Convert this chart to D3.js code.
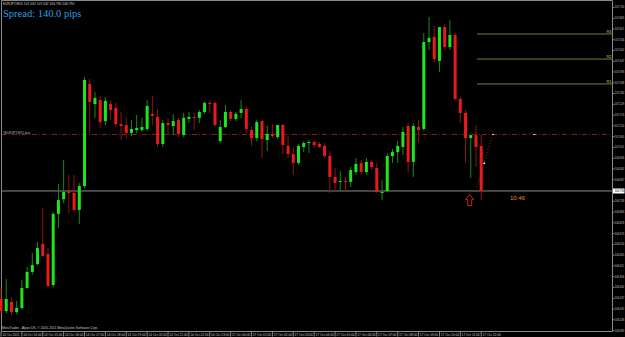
<!DOCTYPE html>
<html lang="en">
<meta charset="utf-8">
<style type="text/css">
  body { margin: 0; background: #000; }
  svg { display: block; }
</style>
<body>
<script src="https://d3js.org/d3.v7.min.js"></script>
<script>
// EURJPY M15 bars, 14 Oct 13:00 -> 17 Oct 12:00
var opens = [106.243,106.182,106.228,106.177,106.198,106.299,106.380,106.420,106.522,106.471,
  106.314,106.674,106.749,106.790,106.780,106.694,106.815,107.332,107.230,107.251,
  107.144,107.230,107.210,107.129,107.124,107.084,107.099,107.099,107.104,107.180,
  107.165,107.028,107.134,107.119,107.149,107.073,107.155,107.165,107.160,107.190,
  107.236,107.236,107.043,107.114,107.190,107.155,107.185,107.205,107.099,107.058,
  107.144,107.048,107.079,107.063,107.124,107.018,106.977,106.932,107.013,107.033,
  107.038,107.028,107.018,106.967,106.861,106.836,106.841,106.836,106.886,106.932,
  106.886,106.937,106.906,106.780,106.790,106.967,106.987,107.013,107.119,106.937,
  107.114,107.104,107.544,107.570,107.448,107.620,107.519,107.580,107.256,107.185,
  107.058,107.073,107.018];
var highs = [106.299,106.344,106.253,106.233,106.339,106.405,106.476,106.532,106.704,106.501,
  106.684,106.825,106.947,106.871,106.871,106.830,107.367,107.357,107.291,107.271,
  107.266,107.251,107.236,107.190,107.160,107.149,107.175,107.160,107.251,107.271,
  107.205,107.149,107.160,107.180,107.160,107.185,107.190,107.185,107.200,107.241,
  107.251,107.241,107.149,107.225,107.200,107.190,107.251,107.215,107.114,107.149,
  107.149,107.119,107.129,107.119,107.129,107.068,107.013,107.028,107.043,107.048,
  107.048,107.038,107.033,106.992,106.906,106.891,106.861,106.912,106.957,106.947,
  106.957,106.947,106.932,106.846,106.982,107.003,107.043,107.114,107.134,107.134,
  107.149,107.590,107.671,107.625,107.620,107.635,107.656,107.590,107.266,107.200,
  107.073,107.124,107.073];
var lows = [106.167,106.172,106.162,106.167,106.188,106.294,106.365,106.415,106.456,106.304,
  106.304,106.603,106.729,106.679,106.684,106.623,106.805,107.084,107.160,107.109,
  107.124,107.149,107.114,107.048,107.058,107.068,107.084,107.089,107.094,107.124,
  107.013,107.013,107.073,107.073,107.063,107.063,107.134,107.099,107.134,107.180,
  107.185,107.119,107.033,107.109,107.144,107.144,107.160,107.084,107.018,107.043,
  106.957,106.992,107.058,107.053,106.977,106.957,106.871,106.922,106.987,106.982,
  107.008,107.008,106.957,106.780,106.785,106.795,106.785,106.810,106.871,106.871,
  106.871,106.896,106.780,106.744,106.785,106.932,106.932,106.972,106.886,106.861,
  107.033,107.094,107.504,107.443,107.392,107.504,107.504,107.251,107.134,106.932,
  106.856,106.912,106.744];
var closes = [106.182,106.243,106.177,106.198,106.299,106.380,106.415,106.501,106.461,106.309,
  106.674,106.744,106.785,106.780,106.694,106.815,107.352,107.241,107.261,107.139,
  107.246,107.200,107.129,107.119,107.084,107.104,107.109,107.114,107.220,107.170,
  107.028,107.134,107.124,107.144,107.079,107.160,107.165,107.160,107.190,107.236,
  107.230,107.124,107.114,107.190,107.155,107.180,107.205,107.104,107.058,107.139,
  107.053,107.079,107.068,107.124,107.023,106.977,106.932,107.018,107.033,107.038,
  107.023,107.013,106.967,106.861,106.830,106.841,106.836,106.896,106.927,106.886,
  106.937,106.912,106.785,106.785,106.967,106.987,107.018,107.089,106.937,107.119,
  107.099,107.544,107.565,107.458,107.620,107.519,107.580,107.256,107.185,107.058,
  107.073,107.013,106.790];

// one label every 4 bars (hourly)
var timeLabels = ["14 Oct 2011","14 Oct 14:00","14 Oct 15:00","14 Oct 16:00","14 Oct 17:00",
  "14 Oct 18:00","14 Oct 19:00","14 Oct 20:00","14 Oct 21:00","14 Oct 22:00","14 Oct 23:00",
  "17 Oct 00:00","17 Oct 01:00","17 Oct 02:00","17 Oct 03:00","17 Oct 04:00","17 Oct 05:00",
  "17 Oct 06:00","17 Oct 07:00","17 Oct 08:00","17 Oct 09:00","17 Oct 10:00","17 Oct 11:00",
  "17 Oct 12:00"];
var priceTicks = [107.720,107.665,107.611,107.556,107.502,107.447,107.393,107.338,107.284,107.229,
  107.174,107.120,107.065,107.011,106.956,106.902,106.847,106.738,106.683,106.629,
  106.574,106.520,106.465,106.411,106.356,106.302,106.247,106.192,106.138,106.083];

var bid = 106.790;
var buyLevel = 107.076;
var pivots = [107.585, 107.458, 107.332];
var pivotNames = ["R3", "R2", "R1"];
var trendPts = [[91.2, 106.808], [94.1, 107.073]];

var W = 625, H = 337;
var svg = d3.select("body").append("svg")
    .attr("width", W)
    .attr("height", H)
    .style("background", "#000");

var x = d3.scaleLinear().domain([0, opens.length - 1]).range([1, 481.2]);
var y = d3.scaleLinear().domain([106.081, 107.757]).range([331, 0]);
var axisX = 612.5, plotBottom = 331.5;

var bars = opens.map(function (o, i) {
    return {i: i, o: o, h: highs[i], l: lows[i], c: closes[i]};
});

// frame
svg.append("path")
    .attr("d", "M1.5," + plotBottom + "V0.5H" + axisX + "V" + plotBottom + "H1.5")
    .attr("fill", "none")
    .attr("stroke", "#8a8a8a")
    .attr("stroke-width", 1);

// buy level (dash dot)
svg.append("line")
    .attr("x1", 2).attr("x2", axisX)
    .attr("y1", y(buyLevel)).attr("y2", y(buyLevel))
    .attr("stroke", "#8c1c1c")
    .attr("stroke-width", 1)
    .attr("stroke-dasharray", "5,2,1,2");
svg.append("text")
    .attr("x", 3).attr("y", y(buyLevel) - 0.8)
    .attr("fill", "#bbbbbb")
    .style("font", "3.2px 'Liberation Sans'")
    .text("#EURJPY,M15 buy");

// bid line
svg.append("line")
    .attr("x1", 2).attr("x2", axisX)
    .attr("y1", y(bid)).attr("y2", y(bid))
    .attr("stroke", "#8a8a8a")
    .attr("stroke-width", 1);

// pivot lines
pivots.forEach(function (p, k) {
    svg.append("line")
        .attr("x1", x(91.2)).attr("x2", axisX)
        .attr("y1", y(p)).attr("y2", y(p))
        .attr("stroke", "#7a7a3a")
        .attr("stroke-width", 1);
    svg.append("text")
        .attr("x", axisX - 1).attr("y", y(p) - 0.8)
        .attr("text-anchor", "end")
        .attr("fill", "#c8c860")
        .style("font", "4px 'Liberation Sans'")
        .text(pivotNames[k]);
});

// candles
var candle = svg.append("g").selectAll("g")
    .data(bars)
    .enter().append("g");

candle.append("line")
    .attr("x1", function (d) { return x(d.i); })
    .attr("x2", function (d) { return x(d.i); })
    .attr("y1", function (d) { return y(d.h); })
    .attr("y2", function (d) { return y(d.l); })
    .attr("stroke", function (d) { return d.c >= d.o ? "#168c16" : "#8c1616"; })
    .attr("stroke-width", 1);

candle.append("rect")
    .attr("x", function (d) { return x(d.i) - 1.5; })
    .attr("width", 3)
    .attr("y", function (d) { return y(Math.max(d.o, d.c)); })
    .attr("height", function (d) { return Math.max(1, Math.abs(y(d.o) - y(d.c))); })
    .attr("fill", function (d) { return d.c >= d.o ? "#1ee61e" : "#ea1a1a"; });

// dotted trend line + marker
svg.append("line")
    .attr("x1", x(trendPts[0][0])).attr("y1", y(trendPts[0][1]))
    .attr("x2", x(trendPts[1][0])).attr("y2", y(trendPts[1][1]))
    .attr("stroke", "#c04040")
    .attr("stroke-width", 0.8)
    .attr("stroke-dasharray", "1,2");
svg.append("rect")
    .attr("x", x(92.6) - 0.8).attr("y", y(106.930) - 0.8)
    .attr("width", 1.6).attr("height", 1.6)
    .attr("fill", "#ffffff");
[94.1, 102].forEach(function (b) {
    svg.append("rect")
        .attr("x", x(b)).attr("y", y(buyLevel) - 0.5)
        .attr("width", 2).attr("height", 1)
        .attr("fill", "#dddddd");
});

// up arrow
var ax = x(89.8), ay = y(106.772);
svg.append("path")
    .attr("d", "M" + ax + "," + ay + "l4,5h-2v6h-4v-6h-2z")
    .attr("fill", "none")
    .attr("stroke", "#e02020")
    .attr("stroke-width", 0.9);

// bar countdown
svg.append("text")
    .attr("x", x(97.5)).attr("y", y(106.745))
    .attr("fill", "#e8892c")
    .style("font", "6px 'Liberation Sans'")
    .text("10:46");

// price axis
var pt = svg.append("g").selectAll("g")
    .data(priceTicks)
    .enter().append("g")
    .attr("transform", function (d) { return "translate(0," + y(d) + ")"; });
pt.append("line")
    .attr("x1", axisX).attr("x2", axisX + 2)
    .attr("stroke", "#8a8a8a");
pt.append("text")
    .attr("x", axisX + 2.3)
    .attr("dy", "0.35em")
    .attr("fill", "#c8c8c8")
    .style("font", "2.6px 'Liberation Sans'")
    .text(function (d) { return d.toFixed(3); });

svg.append("rect")
    .attr("x", axisX + 0.5).attr("y", y(bid) - 2.5)
    .attr("width", 11.5).attr("height", 5)
    .attr("fill", "#ffffff");
svg.append("text")
    .attr("x", axisX + 2.3).attr("y", y(bid))
    .attr("dy", "0.35em")
    .attr("fill", "#000")
    .style("font", "2.6px 'Liberation Sans'")
    .text(bid.toFixed(3));

// time axis
var tl = svg.append("g").selectAll("g")
    .data(timeLabels)
    .enter().append("g")
    .attr("transform", function (d, k) { return "translate(" + x(k * 4) + ",0)"; });
tl.append("line")
    .attr("y1", plotBottom).attr("y2", plotBottom + 5)
    .attr("stroke", "#8a8a8a");
tl.append("text")
    .attr("x", 1.3).attr("y", 335.5)
    .attr("fill", "#c8c8c8")
    .style("font", "3.2px 'Liberation Sans'")
    .text(function (d) { return d; });

// header texts
svg.append("text")
    .attr("x", 3).attr("y", 4.5)
    .attr("fill", "#d0d0d0")
    .style("font", "3.3px 'Liberation Sans'")
    .text("EURJPY,M15  107.032 107.032 106.790 106.790");
svg.append("text")
    .attr("x", 3).attr("y", 17)
    .attr("fill", "#2e9ee0")
    .style("font", "10.5px 'Liberation Serif'")
    .text("Spread: 140.0 pips");
svg.append("text")
    .attr("x", 2).attr("y", 329.3)
    .attr("fill", "#c8c8c8")
    .style("font", "3.3px 'Liberation Sans'")
    .text("MetaTrader - Alpari UK, \u00a9 2001-2011 MetaQuotes Software Corp.");
</script>
</body>
</html>
